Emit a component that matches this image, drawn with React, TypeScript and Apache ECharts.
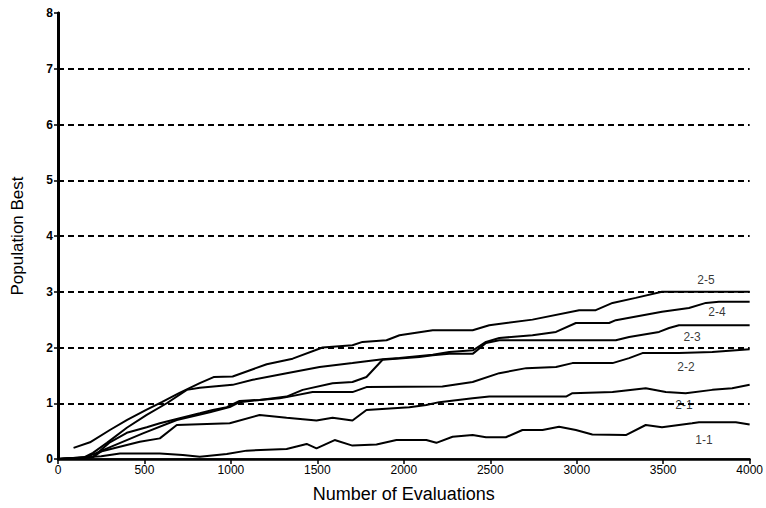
import React, { useEffect, useRef } from "react";
import * as echarts from "echarts";

const xTicks = [0, 500, 1000, 1500, 2000, 2500, 3000, 3500, 4000];
const yTicks = [0, 1, 2, 3, 4, 5, 6, 7, 8];
const gridLevels = [1, 2, 3, 4, 5, 6, 7];

const s25: number[][] = [[90,0.2],[185,0.3],[300,0.52],[400,0.7],[510,0.88],[600,1.02],[700,1.18],[820,1.36],[900,1.47],[1010,1.48],[1207,1.7],[1357,1.8],[1530,2.0],[1703,2.04],[1761,2.1],[1900,2.13],[1975,2.22],[2167,2.31],[2398,2.31],[2494,2.4],[2744,2.5],[3014,2.67],[3110,2.67],[3207,2.8],[3341,2.89],[3493,3.0],[4000,3.0]];
const s24: number[][] = [[0,0],[150,0.03],[202,0.11],[283,0.29],[398,0.56],[513,0.79],[629,1.0],[745,1.24],[820,1.28],[1010,1.33],[1126,1.42],[1322,1.54],[1513,1.65],[1703,1.72],[1877,1.79],[1975,1.81],[2167,1.87],[2263,1.92],[2400,1.95],[2475,2.1],[2552,2.17],[2744,2.22],[2880,2.28],[2995,2.44],[3187,2.44],[3226,2.49],[3493,2.64],[3649,2.71],[3747,2.8],[3822,2.82],[4000,2.82]];
const s23: number[][] = [[0,0],[200,0.03],[260,0.16],[491,0.46],[687,0.7],[878,0.84],[993,0.93],[1050,1.02],[1166,1.06],[1322,1.12],[1415,1.24],[1588,1.36],[1703,1.38],[1784,1.47],[1877,1.78],[2090,1.83],[2167,1.86],[2263,1.89],[2400,1.89],[2475,2.08],[2552,2.13],[3226,2.13],[3303,2.19],[3476,2.28],[3534,2.35],[3591,2.4],[4000,2.4]];
const s22: number[][] = [[0,0],[200,0.03],[300,0.3],[398,0.47],[513,0.57],[589,0.64],[704,0.73],[820,0.82],[895,0.88],[976,0.93],[1050,1.04],[1166,1.06],[1282,1.09],[1322,1.11],[1472,1.2],[1703,1.2],[1784,1.29],[2223,1.3],[2398,1.38],[2552,1.54],[2708,1.63],[2880,1.65],[2975,1.72],[3207,1.72],[3303,1.81],[3380,1.9],[3591,1.9],[3784,1.92],[4000,1.97]];
const s21: number[][] = [[0,0],[150,0.02],[242,0.13],[473,0.31],[589,0.37],[687,0.61],[993,0.64],[1166,0.79],[1322,0.74],[1495,0.69],[1588,0.74],[1703,0.69],[1784,0.88],[2032,0.93],[2130,0.97],[2205,1.02],[2398,1.09],[2494,1.12],[2938,1.12],[2975,1.18],[3207,1.2],[3399,1.27],[3515,1.2],[3630,1.18],[3784,1.24],[3899,1.27],[4000,1.33]];
const s11: number[][] = [[0,0],[250,0.05],[358,0.1],[589,0.1],[722,0.07],[820,0.04],[976,0.09],[1091,0.15],[1322,0.18],[1438,0.27],[1495,0.19],[1600,0.34],[1703,0.24],[1842,0.26],[1957,0.34],[2130,0.34],[2188,0.29],[2282,0.4],[2398,0.43],[2475,0.39],[2590,0.39],[2686,0.52],[2802,0.52],[2898,0.58],[2995,0.52],[3090,0.44],[3284,0.43],[3399,0.61],[3493,0.57],[3667,0.64],[3707,0.66],[3920,0.66],[4000,0.62]];

const seriesNames = ["2-5", "2-4", "2-3", "2-2", "2-1", "1-1"];
const seriesData = [s25, s24, s23, s22, s21, s11];
const labelX = [3747, 3811, 3667, 3632, 3620, 3736];
const labelY = [3.21, 2.64, 2.19, 1.65, 0.97, 0.34];

const FONT = "'Liberation Sans Narrow', 'Liberation Sans', Arial, sans-serif";

export default function App() {
  const ref = useRef<HTMLDivElement>(null);
  useEffect(() => {
    document.body.style.margin = "0";
    const chart = echarts.init(ref.current!, undefined, { renderer: "svg" });
    const lines = seriesData.map((d, i) => ({
      name: seriesNames[i],
      type: "line",
      data: d,
      showSymbol: false,
      symbol: "none",
      lineStyle: { color: "#000", width: 2 },
      z: 3,
    }));
    chart.setOption({
      animation: false,
      backgroundColor: "#fff",
      grid: { left: 58, right: 15, top: 13, bottom: 49 },
      xAxis: [
        {
          type: "value",
          min: 0,
          max: 4000,
          interval: 500,
          name: "Number of Evaluations",
          nameLocation: "middle",
          nameGap: 26,
          nameTextStyle: { fontFamily: "'Liberation Sans', Arial, sans-serif", fontSize: 18, color: "#000" },
          axisLine: { show: true, lineStyle: { color: "#000", width: 2.5 } },
          axisTick: { show: true, length: 5, lineStyle: { color: "#000", width: 1.5 } },
          axisLabel: {
            color: "#000",
            fontFamily: FONT,
            fontSize: 12,
            margin: 5,
            formatter: (v: number) => (xTicks.includes(v) ? String(v) : ""),
          },
          splitLine: { show: false },
        },
        {
          type: "value",
          position: "top",
          min: 0,
          max: 4000,
          axisLine: { show: true, lineStyle: { color: "#000", width: 1.5 } },
          axisTick: { show: false },
          axisLabel: { show: false },
          splitLine: { show: false },
        },
      ],
      yAxis: [
        {
          type: "value",
          min: 0,
          max: 8,
          interval: 1,
          name: "Population Best",
          nameLocation: "middle",
          nameGap: 32,
          nameTextStyle: { fontFamily: "'Liberation Sans', Arial, sans-serif", fontSize: 17, color: "#000" },
          axisLine: { show: true, lineStyle: { color: "#000", width: 2.5 } },
          axisTick: { show: true, length: 4, lineStyle: { color: "#000", width: 1.5 } },
          axisLabel: {
            color: "#000",
            fontFamily: FONT,
            fontSize: 12,
            margin: 5,
            fontWeight: "bold",
            formatter: (v: number) => (yTicks.includes(v) ? String(v) : ""),
          },
          splitLine: { show: false },
        },
        {
          type: "value",
          position: "right",
          min: 0,
          max: 8,
          axisLine: { show: true, lineStyle: { color: "#000", width: 3 } },
          axisTick: { show: false },
          axisLabel: { show: false },
          splitLine: { show: false },
        },
      ],
      series: [
        {
          type: "line",
          data: [],
          markLine: {
            silent: true,
            symbol: "none",
            label: { show: false },
            lineStyle: { color: "#000", type: [6, 4], width: 2 },
            data: gridLevels.map((v) => ({ yAxis: v })),
          },
          z: 2,
        },
        ...lines,
        {
          type: "scatter",
          symbolSize: 0,
          itemStyle: { color: "#000" },
          data: seriesNames.map((n, i) => ({ name: n, value: [labelX[i], labelY[i]] })),
          label: {
            show: true,
            position: "top",
            distance: -6,
            formatter: (p: any) => p.name,
            color: "#000",
            textBorderWidth: 0,
            textBorderColor: "transparent",
            fontFamily: FONT,
            fontSize: 12,
          },
          z: 4,
        },
      ],
    });
    return () => chart.dispose();
  }, []);
  return <div ref={ref} style={{ position: "fixed", left: 0, top: 0, width: 766, height: 508 }} />;
}
